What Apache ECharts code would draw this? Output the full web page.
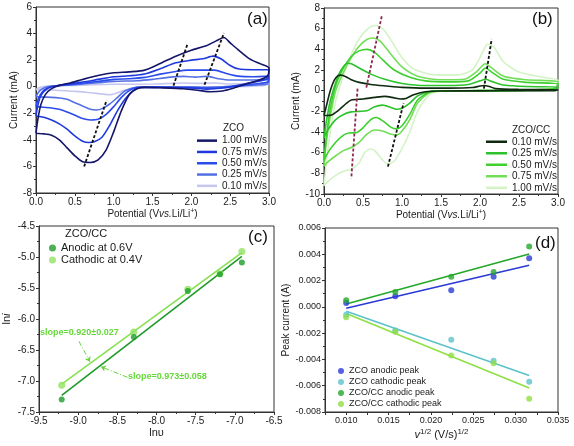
<!DOCTYPE html>
<html><head><meta charset="utf-8">
<script src="https://cdn.jsdelivr.net/npm/echarts@6/dist/echarts.min.js"></script>
<style>html,body{margin:0;padding:0;background:#fff}#c{width:574px;height:446px}</style>
</head><body><div id="c"></div><script>
// ---------- Panel (a): ZCO CV curves [potential V, current mA] ----------
const zco100 = [[0,-3.5],[0.02,-2.6],[0.06,-1.4],[0.12,-0.6],[0.2,-0.15],[0.3,0.1],[0.45,0.3],[0.6,0.55],[0.8,0.85],[1.0,1.05],[1.2,1.12],[1.4,1.25],[1.6,1.75],[1.8,2.3],[2.0,2.75],[2.2,3.1],[2.32,3.45],[2.42,3.7],[2.5,3.3],[2.6,2.8],[2.75,2.1],[2.9,1.7],[3.0,1.4],
  [2.98,0.8],[2.85,0.45],[2.7,0.2],[2.55,-0.1],[2.4,-0.32],[2.25,-0.38],[2.1,-0.28],[1.9,-0.15],[1.6,-0.08],[1.4,-0.05],[1.3,-0.15],[1.2,-0.6],[1.1,-1.8],[1.0,-3.4],[0.9,-4.8],[0.8,-5.5],[0.7,-5.7],[0.6,-5.65],[0.5,-5.2],[0.4,-4.6],[0.3,-4.0],[0.2,-3.65],[0.1,-3.55],[0,-3.5]];
const zco075 = [[0,-2.2],[0.02,-1.5],[0.06,-0.7],[0.12,-0.25],[0.2,0],[0.35,0.15],[0.6,0.35],[0.8,0.55],[1.0,0.75],[1.2,0.82],[1.4,0.95],[1.6,1.35],[1.8,1.8],[2.0,2.0],[2.15,2.1],[2.28,2.3],[2.38,2.1],[2.5,1.6],[2.6,1.35],[2.8,1.28],[3.0,1.28],
  [2.98,0.6],[2.8,0.35],[2.6,0.1],[2.4,-0.1],[2.2,-0.18],[2.0,-0.1],[1.6,-0.05],[1.35,-0.05],[1.25,-0.3],[1.15,-0.9],[1.05,-1.8],[0.95,-2.9],[0.85,-3.8],[0.75,-4.15],[0.68,-4.2],[0.6,-4.1],[0.5,-3.7],[0.4,-3.2],[0.3,-2.8],[0.2,-2.5],[0.1,-2.3],[0,-2.2]];
const zco050 = [[0,-1.5],[0.03,-0.9],[0.08,-0.4],[0.15,-0.1],[0.25,0.05],[0.5,0.2],[0.8,0.4],[1.0,0.55],[1.2,0.6],[1.4,0.7],[1.6,0.95],[1.8,1.15],[1.95,1.25],[2.1,1.25],[2.3,1.25],[2.45,1.0],[2.6,0.8],[2.8,0.75],[3.0,0.8],
  [2.98,0.35],[2.8,0.2],[2.6,0.05],[2.3,-0.1],[2.0,-0.05],[1.5,-0.03],[1.3,-0.05],[1.2,-0.3],[1.1,-0.8],[1.0,-1.5],[0.9,-2.1],[0.8,-2.45],[0.7,-2.5],[0.6,-2.4],[0.5,-2.15],[0.4,-1.9],[0.3,-1.7],[0.2,-1.6],[0.1,-1.55],[0,-1.5]];
const zco025 = [[0,-0.75],[0.04,-0.35],[0.1,-0.1],[0.2,0.05],[0.5,0.15],[0.8,0.3],[1.0,0.4],[1.3,0.45],[1.5,0.55],[1.7,0.7],[1.9,0.78],[2.05,0.72],[2.2,0.78],[2.35,0.6],[2.5,0.5],[2.8,0.5],[3.0,0.55],
  [2.98,0.2],[2.7,0.1],[2.4,0],[2.1,-0.05],[1.5,-0.02],[1.3,-0.05],[1.15,-0.3],[1.05,-0.8],[0.95,-1.3],[0.85,-1.65],[0.78,-1.75],[0.7,-1.7],[0.6,-1.45],[0.5,-1.2],[0.4,-0.95],[0.3,-0.85],[0.2,-0.8],[0.1,-0.78],[0,-0.75]];
const zco010 = [[0,-0.2],[0.05,-0.05],[0.15,0.05],[0.5,0.1],[1.0,0.18],[1.5,0.2],[1.9,0.28],[2.1,0.25],[2.3,0.28],[2.5,0.2],[3.0,0.25],
  [2.95,0.1],[2.5,0],[2.0,-0.02],[1.4,0],[1.25,-0.1],[1.1,-0.35],[0.95,-0.6],[0.85,-0.55],[0.7,-0.45],[0.5,-0.35],[0.3,-0.28],[0.1,-0.22],[0,-0.2]];
const guidesA = [[[0.62,-6.0],[0.91,-1.0]],[[1.77,0.08],[1.95,3.2]],[[2.17,0.15],[2.42,4.04]]];

// ---------- Panel (b): ZCO/CC CV curves ----------
const cc010 = [[0,-2.4],[0.03,-1.5],[0.08,0],[0.13,1.0],[0.18,1.45],[0.22,1.5],[0.28,1.35],[0.35,1.05],[0.45,0.8],[0.6,0.6],[0.8,0.45],[1.0,0.32],[1.3,0.25],[1.6,0.25],[1.9,0.3],[2.0,0.45],[2.05,0.5],[2.12,0.4],[2.2,0.2],[2.5,0.12],[3.0,0.1],
  [2.95,0],[2.5,0],[2.0,-0.02],[1.5,-0.03],[1.3,-0.1],[1.15,-0.4],[1.05,-0.75],[0.98,-0.8],[0.9,-0.7],[0.78,-0.55],[0.65,-0.65],[0.5,-0.8],[0.35,-0.9],[0.29,-1.2],[0.2,-1.8],[0.15,-2.1],[0.1,-2.35],[0.03,-2.4],[0,-2.4]];
const cc025 = [[0,-4.6],[0.03,-3],[0.08,-1],[0.15,0.8],[0.22,2.0],[0.3,2.65],[0.35,2.6],[0.45,2.2],[0.6,1.6],[0.8,1.05],[1.0,0.7],[1.3,0.5],[1.6,0.5],[1.85,0.6],[2.0,0.95],[2.07,1.1],[2.15,0.9],[2.3,0.55],[2.6,0.4],[3.0,0.35],
  [2.97,0.1],[2.6,0.02],[2.0,0],[1.5,-0.02],[1.35,-0.1],[1.2,-0.5],[1.1,-1.2],[1.0,-1.7],[0.93,-1.8],[0.85,-1.6],[0.75,-1.4],[0.65,-1.55],[0.55,-1.95],[0.45,-2.0],[0.35,-2.05],[0.25,-2.3],[0.15,-2.8],[0.05,-3.8],[0,-4.6]];
const cc050 = [[0,-6.8],[0.03,-4.5],[0.08,-1.8],[0.15,0.5],[0.25,2.2],[0.35,3.3],[0.45,3.85],[0.55,4.0],[0.65,3.7],[0.75,3.0],[0.9,2.0],[1.1,1.3],[1.3,0.95],[1.6,0.85],[1.85,0.95],[2.0,1.7],[2.07,2.2],[2.15,1.8],[2.3,1.1],[2.6,0.8],[3.0,0.65],
  [2.97,0.2],[2.6,0.05],[2.0,0],[1.5,-0.02],[1.35,-0.15],[1.2,-0.9],[1.1,-2.3],[1.0,-3.4],[0.93,-3.7],[0.85,-3.5],[0.75,-2.9],[0.67,-2.6],[0.6,-2.8],[0.5,-3.6],[0.42,-4.05],[0.32,-4.1],[0.25,-4.3],[0.15,-5.0],[0.05,-6.0],[0,-6.8]];
const cc075 = [[0,-7.3],[0.03,-5],[0.08,-2.5],[0.15,0],[0.25,1.8],[0.35,3.2],[0.45,4.3],[0.55,4.95],[0.63,5.1],[0.72,4.8],[0.85,3.6],[1.0,2.3],[1.2,1.4],[1.5,1.05],[1.8,1.1],[1.95,1.8],[2.07,2.6],[2.15,2.2],[2.3,1.4],[2.6,1.05],[3.0,0.85],
  [2.97,0.25],[2.6,0.05],[2.0,0],[1.5,-0.03],[1.35,-0.2],[1.2,-1.2],[1.1,-2.8],[1.0,-3.9],[0.93,-4.3],[0.85,-4.2],[0.75,-3.9],[0.65,-3.8],[0.55,-4.2],[0.45,-5.0],[0.35,-5.5],[0.25,-5.8],[0.15,-6.3],[0.05,-6.9],[0,-7.3]];
const cc100 = [[0,-9.2],[0.03,-7],[0.08,-4],[0.15,-1],[0.25,1.5],[0.35,3.5],[0.45,5.0],[0.55,5.9],[0.65,6.3],[0.75,6.0],[0.85,5.0],[1.0,3.2],[1.15,2.1],[1.4,1.55],[1.7,1.5],[1.9,2.0],[2.0,3.2],[2.1,4.5],[2.18,4.2],[2.3,2.8],[2.5,1.8],[2.8,1.3],[3.0,1.0],
  [2.97,0.3],[2.6,0.05],[2.0,0],[1.5,-0.05],[1.35,-0.4],[1.2,-2.0],[1.1,-4.0],[1.0,-5.6],[0.9,-6.8],[0.82,-7.1],[0.75,-6.7],[0.65,-5.8],[0.6,-5.65],[0.52,-6.0],[0.45,-7.0],[0.35,-7.6],[0.25,-7.8],[0.15,-8.2],[0.05,-8.8],[0,-9.2]];
const guidesBPurple = [[[0.74,7.2],[0.54,0.2]],[[0.43,0.2],[0.35,-8.5]]];
const guidesBBlack = [[[0.82,-7.35],[1.02,-1.2]],[[2.05,0.2],[2.15,5.0]]];

// ---------- Panel (c): ln i vs ln v ----------
const lnv = [-9.21,-8.29,-7.60,-7.19,-6.91];
const lniAnodic = [-7.30,-6.29,-5.55,-5.28,-5.09];
const lniCathodic = [-7.07,-6.21,-5.52,-5.27,-4.91];
const fitAnodic = [[-9.21,-7.23],[-6.91,-4.99]];
const fitCathodic = [[-9.21,-7.05],[-6.91,-4.93]];
const arrowsC = [[[-8.99,-6.36],[-8.85,-6.69]],[[-8.37,-6.94],[-8.71,-6.77]]];

// ---------- Panel (d): peak current vs v^1/2 ----------
const sqrtv = [0.0100,0.0158,0.0224,0.0274,0.0316];
const zcoAn = [0.00029,0.00080,0.00126,0.00230,0.00370];
const zcoCa = [-0.00060,-0.00180,-0.00250,-0.00410,-0.00570];
const ccAn = [0.00050,0.00113,0.00230,0.00265,0.00460];
const ccCa = [-0.00080,-0.00190,-0.00370,-0.00430,-0.00700];
const fitZcoAn = [[0.0100,-0.00010],[0.0316,0.00316]];
const fitCcAn = [[0.0100,0.00022],[0.0316,0.00402]];
const fitZcoCa = [[0.0100,-0.00034],[0.0316,-0.00523]];
const fitCcCa = [[0.0100,-0.00050],[0.0316,-0.00618]];

const FONT = 'Liberation Sans';
const TXT = '#1a1a1a';
const AX = '#333';
const zip = (xs, ys) => xs.map((x, i) => [x, ys[i]]);

function axis(gridIndex, min, max, interval, fmt, fs, extra) {
  return Object.assign({
    gridIndex, type: 'value', min, max, interval,
    axisLine: { show: true, onZero: false, lineStyle: { color: AX, width: 1 } },
    axisTick: { show: true, length: 3, lineStyle: { color: AX } },
    minorTick: { show: true, splitNumber: 2, length: 2, lineStyle: { color: AX } },
    splitLine: { show: false },
    axisLabel: { color: TXT, fontSize: fs, fontFamily: FONT, margin: 4, showMinLabel: true, showMaxLabel: true, hideOverlap: false, formatter: fmt },
    nameTextStyle: { color: TXT, fontSize: 10, fontFamily: FONT }
  }, extra || {});
}
const f1 = v => v.toFixed(1);
const f0 = v => v.toFixed(0);
const f3 = v => v.toFixed(3);
const richBase = {
  n: { fontSize: 10, fontFamily: FONT, color: TXT },
  i: { fontSize: 10, fontFamily: FONT, color: TXT, fontStyle: 'italic' },
  s: { fontSize: 7, fontFamily: FONT, color: TXT, padding: [0, 0, 6, 0] }
};
const potName = '{n|Potential (V}{i|vs.}{n|Li/Li}{s|+}{n|)}';

const labels = {
  a100: '1.00 mV/s', a075: '0.75 mV/s', a050: '0.50 mV/s', a025: '0.25 mV/s', a010: '0.10 mV/s',
  b010: '0.10 mV/s', b025: '0.25 mV/s', b050: '0.50 mV/s', b075: '0.75 mV/s', b100: '1.00 mV/s',
  cAn: 'Anodic at 0.6V', cCa: 'Cathodic at 0.4V',
  dZA: 'ZCO anodic peak', dZC: 'ZCO cathodic peak', dCA: 'ZCO/CC anodic peak', dCC: 'ZCO/CC cathodic peak'
};

const colA = { a100: '#15156a', a075: '#1e3ade', a050: '#2b4cec', a025: '#5470e4', a010: '#c6c6ef' };
const colB = { b010: '#0f2a0f', b025: '#2cc22c', b050: '#3fd030', b075: '#72de58', b100: '#d4f3c6' };

const series = [];
function cv(name, data, xi, color, z) {
  series.push({ type: 'line', name, data, xAxisIndex: xi, yAxisIndex: xi, showSymbol: false, symbol: 'none', smooth: 0.25,
    lineStyle: { width: 1.6, color }, itemStyle: { color }, z, clip: true });
}
cv('a010', zco010, 0, colA.a010, 2);
cv('a025', zco025, 0, colA.a025, 3);
cv('a050', zco050, 0, colA.a050, 4);
cv('a075', zco075, 0, colA.a075, 5);
cv('a100', zco100, 0, colA.a100, 6);
cv('b100', cc100, 1, colB.b100, 2);
cv('b075', cc075, 1, colB.b075, 3);
cv('b050', cc050, 1, colB.b050, 4);
cv('b025', cc025, 1, colB.b025, 5);
cv('b010', cc010, 1, colB.b010, 6);

function guide(data, xi, color) {
  series.push({ type: 'line', data, xAxisIndex: xi, yAxisIndex: xi, showSymbol: false, symbol: 'none', silent: true,
    lineStyle: { width: 1.8, color, type: [3, 2] }, z: 10 });
}
guidesA.forEach(g => guide(g, 0, '#111'));
guidesBPurple.forEach(g => guide(g, 1, '#8e2a52'));
guidesBBlack.forEach(g => guide(g, 1, '#111'));

// panel c
series.push({ type: 'line', data: fitAnodic, xAxisIndex: 2, yAxisIndex: 2, showSymbol: false, symbol: 'none', lineStyle: { width: 1.6, color: '#1f9a2a' }, z: 3 });
series.push({ type: 'line', data: fitCathodic, xAxisIndex: 2, yAxisIndex: 2, showSymbol: false, symbol: 'none', lineStyle: { width: 1.6, color: '#86e050' }, z: 3 });
series.push({ type: 'scatter', name: 'cAn', data: zip(lnv, lniAnodic), xAxisIndex: 2, yAxisIndex: 2, symbolSize: 6, itemStyle: { color: '#1f9e2a' }, z: 5 });
series.push({ type: 'scatter', name: 'cCa', data: zip(lnv, lniCathodic), xAxisIndex: 2, yAxisIndex: 2, symbolSize: 7, itemStyle: { color: '#90e460' }, z: 4 });
series.push({ type: 'lines', coordinateSystem: 'cartesian2d', xAxisIndex: 2, yAxisIndex: 2, silent: true,
  data: arrowsC.map(c => ({ coords: c })), symbol: ['none', 'arrow'], symbolSize: 5,
  lineStyle: { color: '#66d63a', width: 1, type: [5, 2, 1, 2], opacity: 1 }, z: 6 });

// panel d
const dCols = { dZA: '#2a3ad6', dZC: '#5cc3c9', dCA: '#23a82a', dCC: '#8ee044' };
[[fitZcoAn, dCols.dZA], [fitZcoCa, dCols.dZC], [fitCcAn, dCols.dCA], [fitCcCa, dCols.dCC]].forEach(([d, c]) => {
  series.push({ type: 'line', data: d, xAxisIndex: 3, yAxisIndex: 3, showSymbol: false, symbol: 'none', lineStyle: { width: 1.6, color: c }, z: 3 });
});
[['dZA', zcoAn], ['dZC', zcoCa], ['dCA', ccAn], ['dCC', ccCa]].forEach(([n, ys]) => {
  series.push({ type: 'scatter', name: n, data: zip(sqrtv, ys), xAxisIndex: 3, yAxisIndex: 3, symbolSize: 6, itemStyle: { color: dCols[n] }, z: 5 });
});

const legTxt = { color: TXT, fontFamily: FONT };
const option = {
  animation: false,
  backgroundColor: '#fff',
  textStyle: { fontFamily: FONT },
  grid: [
    { left: 36, top: 7, width: 233, height: 186, show: true, borderColor: AX, borderWidth: 1, backgroundColor: 'transparent' },
    { left: 324, top: 8, width: 234, height: 186, show: true, borderColor: AX, borderWidth: 1, backgroundColor: 'transparent' },
    { left: 37, top: 226, width: 237, height: 186, show: true, borderColor: AX, borderWidth: 1, backgroundColor: 'transparent' },
    { left: 325, top: 228, width: 233, height: 184, show: true, borderColor: AX, borderWidth: 1, backgroundColor: 'transparent' }
  ],
  xAxis: [
    axis(0, 0, 3, 0.5, f1, 10, { name: potName, nameLocation: 'middle', nameGap: 12, nameTextStyle: { rich: richBase } }),
    axis(1, 0, 3, 0.5, f1, 10, { name: potName, nameLocation: 'middle', nameGap: 12, nameTextStyle: { rich: richBase } }),
    axis(2, -9.5, -6.5, 0.5, f1, 10, { name: 'lnυ', nameLocation: 'middle', nameGap: 15, nameTextStyle: { fontSize: 11, color: TXT, fontFamily: FONT } }),
    axis(3, 0.0075, 0.035, 0.0025, v => (Math.round(v * 10000) % 50 === 0 ? v.toFixed(3) : ''), 9,
      { minorTick: { show: false }, name: '{i|v}{s|1/2}{n| (V/s)}{s|1/2}', nameLocation: 'middle', nameGap: 16,
        nameTextStyle: { rich: { n: { fontSize: 11, fontFamily: FONT, color: TXT }, i: { fontSize: 11, fontFamily: FONT, color: TXT, fontStyle: 'italic' }, s: { fontSize: 8, fontFamily: FONT, color: TXT, padding: [0, 0, 6, 0] } } } })
  ],
  yAxis: [
    axis(0, -8, 6, 2, f0, 10, { name: 'Current (mA)', nameLocation: 'middle', nameGap: 15 }),
    axis(1, -10, 8, 2, f0, 10, { name: 'Current (mA)', nameLocation: 'middle', nameGap: 14 }),
    axis(2, -7.5, -4.5, 0.5, f1, 10, { name: '{n|ln}{i|i}', nameLocation: 'middle', nameGap: 27,
      nameTextStyle: { rich: { n: { fontSize: 11, fontFamily: FONT, color: TXT }, i: { fontSize: 11, fontFamily: FONT, color: TXT, fontStyle: 'italic' } } } }),
    axis(3, -0.008, 0.006, 0.002, f3, 9, { name: 'Peak current (A)', nameLocation: 'middle', nameGap: 28 })
  ],
  legend: [
    { data: ['a100', 'a075', 'a050', 'a025', 'a010'], orient: 'vertical', left: 197, top: 135, padding: 0, itemGap: 0, itemWidth: 20, itemHeight: 2.5, icon: 'rect',
      formatter: n => labels[n], textStyle: Object.assign({ fontSize: 10, lineHeight: 11.3 }, legTxt), selectedMode: false },
    { data: ['b010', 'b025', 'b050', 'b075', 'b100'], orient: 'vertical', left: 486, top: 136, padding: 0, itemGap: 0, itemWidth: 21, itemHeight: 2.5, icon: 'rect',
      formatter: n => labels[n], textStyle: Object.assign({ fontSize: 10, lineHeight: 11.5 }, legTxt), selectedMode: false },
    { data: ['cAn', 'cCa'], orient: 'vertical', left: 49, top: 242, padding: 0, itemGap: 0, itemWidth: 7, itemHeight: 7, icon: 'circle',
      formatter: n => labels[n], textStyle: Object.assign({ fontSize: 11, lineHeight: 12 }, legTxt), selectedMode: false },
    { data: ['dZA', 'dZC', 'dCA', 'dCC'], orient: 'vertical', left: 338, top: 365.5, padding: 0, itemGap: 0, itemWidth: 6, itemHeight: 6, icon: 'circle',
      formatter: n => labels[n], textStyle: Object.assign({ fontSize: 9, lineHeight: 11 }, legTxt), selectedMode: false }
  ],
  graphic: [
    { type: 'text', left: 247, top: 11, style: { text: '(a)', font: '17px "Liberation Sans"', fill: '#111' } },
    { type: 'text', left: 532, top: 11, style: { text: '(b)', font: '17px "Liberation Sans"', fill: '#111' } },
    { type: 'text', left: 248, top: 229, style: { text: '(c)', font: '17px "Liberation Sans"', fill: '#111' } },
    { type: 'text', left: 535, top: 235, style: { text: '(d)', font: '17px "Liberation Sans"', fill: '#111' } },
    { type: 'text', left: 223, top: 123, style: { text: 'ZCO', font: '10px "Liberation Sans"', fill: TXT } },
    { type: 'text', left: 512, top: 125, style: { text: 'ZCO/CC', font: '10px "Liberation Sans"', fill: TXT } },
    { type: 'text', left: 65, top: 228, style: { text: 'ZCO/CC', font: '11px "Liberation Sans"', fill: TXT } },
    { type: 'text', left: 40, top: 328, style: { text: 'slope=0.920±0.027', font: 'bold 9px "Liberation Sans"', fill: '#66d83a' } },
    { type: 'text', left: 128, top: 372, style: { text: 'slope=0.973±0.058', font: 'bold 9px "Liberation Sans"', fill: '#66d83a' } }
  ],
  series
};
const chart = echarts.init(document.getElementById('c'), null, { renderer: 'canvas' });
chart.setOption(option);
</script></body></html>
